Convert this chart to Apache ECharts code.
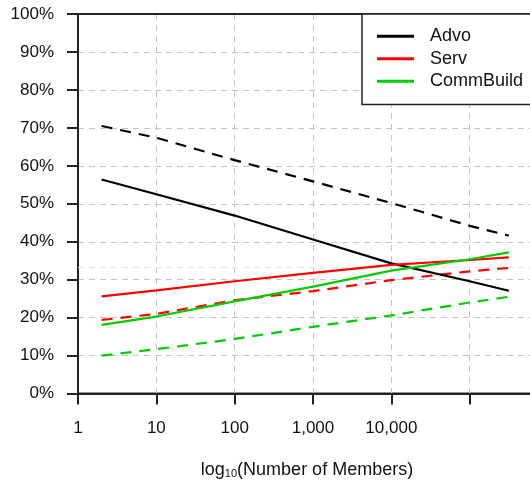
<!DOCTYPE html>
<html>
<head>
<meta charset="utf-8">
<script src="https://cdn.jsdelivr.net/npm/echarts@6/dist/echarts.min.js"></script>
<style>
  html, body { margin: 0; padding: 0; background: #fff; }
  #chart { width: 530px; height: 485px; }
</style>
</head>
<body>
<div id="chart"></div>
<script>
// Group size (number of members) at which each curve is evaluated
const members = [2, 10, 100, 1000, 10000, 100000, 316000];

// Share of each category (%), solid curves
const advo      = [56.4, 52.5, 46.9, 40.6, 34.3, 29.6, 27.1];
const serv      = [25.6, 27.2, 29.6, 31.8, 33.9, 35.2, 35.9];
const commBuild = [18.1, 20.3, 24.3, 28.2, 32.4, 35.4, 37.2];

// Share of each category (%), dashed curves
const advoDash      = [70.5, 67.4, 61.5, 55.9, 50.2, 44.2, 41.6];
const servDash      = [19.4, 21.0, 24.6, 27.0, 29.9, 32.2, 33.1];
const commBuildDash = [10.0, 11.7, 14.4, 17.6, 20.6, 24.0, 25.5];

// Y axis tick values (%)
const yTicks = [0, 10, 20, 30, 40, 50, 60, 70, 80, 90, 100];
// Reference level (one third)
const thirdLevel = 33.3;

const AXIS = '#222';
const GRID = '#c4c4c4';
const BLACK = '#000000', RED = '#ff0000', GREEN = '#00cd00';
const FONT = 'Liberation Sans, Arial, sans-serif';

function pairs(vals) { return members.map((m, i) => [m, vals[i]]); }
function commas(v) {
  return String(Math.round(v)).replace(/\B(?=(\d{3})+(?!\d))/g, ',');
}

function lineSeries(name, vals, color, dashed) {
  return {
    name: name,
    type: 'line',
    data: pairs(vals),
    showSymbol: false,
    symbol: 'none',
    smooth: false,
    silent: true,
    lineStyle: { color: color, width: 2.2, type: dashed ? [11, 8] : 'solid' },
    itemStyle: { color: color },
    z: dashed ? 3 : 4
  };
}

const series = [
  lineSeries('Advo', advo, BLACK, false),
  lineSeries('Serv', serv, RED, false),
  lineSeries('CommBuild', commBuild, GREEN, false),
  lineSeries('Advo (dashed)', advoDash, BLACK, true),
  lineSeries('Serv (dashed)', servDash, RED, true),
  lineSeries('CommBuild (dashed)', commBuildDash, GREEN, true)
];
series[0].markLine = {
  silent: true,
  symbol: 'none',
  label: { show: false },
  lineStyle: { color: '#e2e2e2', type: [6, 5], width: 1 },
  data: [{ yAxis: thirdLevel }],
  z: 1
};

const chart = echarts.init(document.getElementById('chart'), null, { renderer: 'canvas' });
chart.setOption({
  animation: false,
  backgroundColor: '#fff',
  textStyle: { fontFamily: FONT },
  grid: {
    left: 78, top: 14, width: 470, height: 379.6,
    outerBoundsMode: 'none',
    containLabel: false,
    show: true, borderColor: AXIS, borderWidth: 2, backgroundColor: 'transparent'
  },
  legend: {
    data: ['Advo', 'Serv', 'CommBuild'],
    orient: 'vertical',
    left: 362, top: 14,
    backgroundColor: '#fff',
    borderColor: AXIS, borderWidth: 1.5, borderRadius: 0,
    padding: [11, 20, 12, 15],
    itemGap: 0,
    itemWidth: 37, itemHeight: 3,
    icon: 'rect',
    selectedMode: false,
    textStyle: { fontSize: 18, color: '#111', lineHeight: 22.5, padding: [0, 0, 0, 11], fontFamily: FONT }
  },
  xAxis: [{
    type: 'log', logBase: 10, min: 1, max: 1000000,
    name: '{a|log}{s|10}{a|(Number of Members)}',
    nameLocation: 'middle', nameGap: 66,
    nameTextStyle: {
      padding: [0, 12, 0, 0],
      rich: {
        a: { fontSize: 18, color: '#111', fontFamily: FONT },
        s: { fontSize: 11, color: '#111', padding: [9, 0, 0, 0], fontFamily: FONT }
      }
    },
    axisLine: { show: true, lineStyle: { color: AXIS, width: 2 } },
    axisTick: { show: true, length: 11, lineStyle: { color: AXIS, width: 2 } },
    axisLabel: {
      fontSize: 17, color: '#111', margin: 26,
      formatter: v => (v >= 100000 ? '' : commas(v))
    },
    splitLine: { show: true, lineStyle: { color: GRID, type: [6, 5], width: 1 } },
    minorTick: { show: false }
  }, {
    // solid frame line along the top of the plot
    type: 'log', logBase: 10, min: 1, max: 1000000,
    position: 'top',
    axisLine: { show: true, lineStyle: { color: AXIS, width: 2 } },
    axisTick: { show: false },
    axisLabel: { show: false },
    splitLine: { show: false }
  }],
  yAxis: {
    type: 'value', min: yTicks[0], max: yTicks[yTicks.length - 1], interval: 10,
    axisLine: { show: true, lineStyle: { color: AXIS, width: 2 } },
    axisTick: { show: true, length: 11, lineStyle: { color: AXIS, width: 2 } },
    axisLabel: { fontSize: 17, color: '#111', margin: 24, formatter: '{value}%' },
    splitLine: { show: true, lineStyle: { color: GRID, type: [6, 5], width: 1 } }
  },
  series: series
});
</script>
</body>
</html>
